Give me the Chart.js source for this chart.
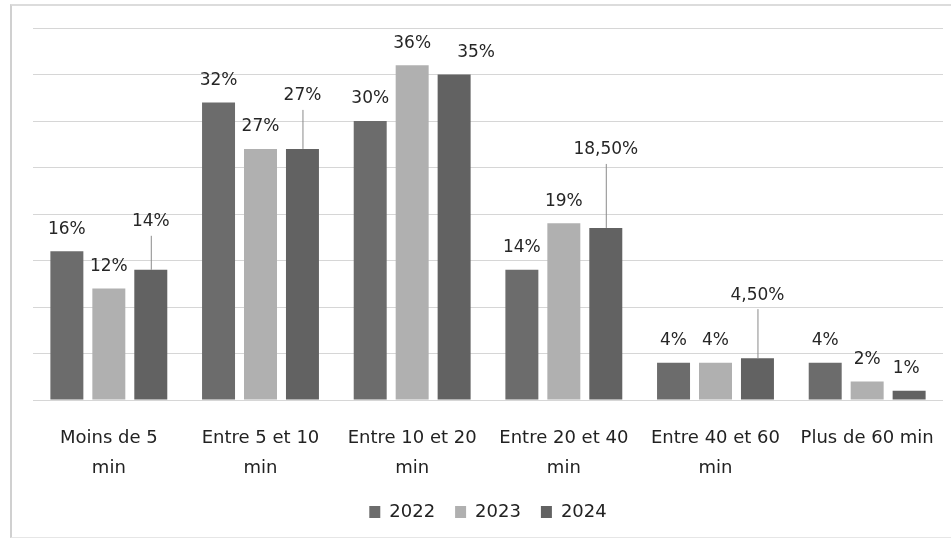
<!DOCTYPE html>
<html>
<head>
<meta charset="utf-8">
<script src="https://cdn.jsdelivr.net/npm/chart.js@4/dist/chart.umd.min.js"></script>
<style>
  body { margin: 0; background: #fff; }
  #marco { position: absolute; left: 10px; top: 4px; width: 960px; height: 531px; border-left: 2px solid #d0d0d0; border-top: 2px solid #dcdcdc; border-bottom: 1px solid #e6e6e6; pointer-events: none; }
  canvas { position: absolute; left: 0; top: 0; }
</style>
</head>
<body>
<canvas id="grafico" width="951" height="540"></canvas>
<div id="marco"></div>
<script>
// Datos
const categorias = [["Moins de 5", "min"], ["Entre 5 et 10", "min"], ["Entre 10 et 20", "min"], ["Entre 20 et 40", "min"], ["Entre 40 et 60", "min"], "Plus de 60 min"]
const anos = ["2022", "2023", "2024"]
const valores2022 = [16, 32, 30, 14, 4, 4]
const valores2023 = [12, 27, 36, 19, 4, 2]
const valores2024 = [14, 27, 35, 18.5, 4.5, 1]

const colores = ["#6c6c6c", "#b0b0b0", "#626262"] // grises del escaneo

// Desplazamiento de algunas etiquetas (en px), solo para la serie 2024
const elevacionExtra = [[0, 0, 0, 0, 0, 0], [0, 0, 0, 0, 0, 0], [26, 31, 0, 56, 41, 0]]
const desvioX = [[0, 0, 0, 0, 0, 0], [0, 0, 0, 0, 0, 0], [0, 0, 22, 0, 0, -3]]

const fuente = "'DejaVu Sans', 'Open Sans', sans-serif"

const formatear = (v) => Number.isInteger(v) ? v + "%" : v.toFixed(2).replace(".", ",") + "%"

// Plugin para escribir los porcentajes encima de las barras
const etiquetas = {
  id: "etiquetas",
  afterDatasetsDraw(chart) {
    const ctx = chart.ctx
    ctx.save()
    ctx.font = "17px " + fuente
    ctx.textAlign = "center"
    ctx.textBaseline = "middle"
    chart.data.datasets.forEach((ds, d) => {
      const meta = chart.getDatasetMeta(d)
      meta.data.forEach((barra, i) => {
        const extra = elevacionExtra[d][i]
        const x = barra.x + desvioX[d][i]
        const y = barra.y - 22 - extra
        if (extra > 0) { // línea guía
          ctx.beginPath()
          ctx.strokeStyle = "#8a8a8a"
          ctx.lineWidth = 1
          ctx.moveTo(barra.x + 0.5, y + 14)
          ctx.lineTo(barra.x + 0.5, barra.y)
          ctx.stroke()
        }
        ctx.fillStyle = "#262626"
        ctx.fillText(formatear(ds.data[i]), x, y)
      })
    })
    ctx.restore()
  }
}

new Chart(document.getElementById("grafico"), {
  type: "bar",
  data: {
    labels: categorias,
    datasets: [
      { label: anos[0], data: valores2022, backgroundColor: colores[0] },
      { label: anos[1], data: valores2023, backgroundColor: colores[1] },
      { label: anos[2], data: valores2024, backgroundColor: colores[2] }
    ]
  },
  options: {
    responsive: false,
    animation: false,
    categoryPercentage: 0.83,
    barPercentage: 0.786,
    layout: { padding: { left: 33, right: 8, top: 28, bottom: 9 } },
    scales: {
      x: {
        grid: { display: false },
        border: { display: false },
        ticks: { color: "#222", font: { family: fuente, size: 18, lineHeight: 1.667 }, padding: 15, maxRotation: 0, autoSkip: false },
        afterFit: (escala) => { escala.height = 83 }
      },
      y: {
        min: 0, max: 40,
        ticks: { display: false, stepSize: 5 },
        grid: { color: "#d6d6d6", drawTicks: false },
        border: { display: false }
      }
    },
    plugins: {
      legend: {
        position: "bottom",
        labels: { color: "#222", boxWidth: 11, boxHeight: 12, padding: 20, font: { family: fuente, size: 18 } }
      },
      tooltip: { enabled: false }
    }
  },
  plugins: [etiquetas]
})
</script>
</body>
</html>
